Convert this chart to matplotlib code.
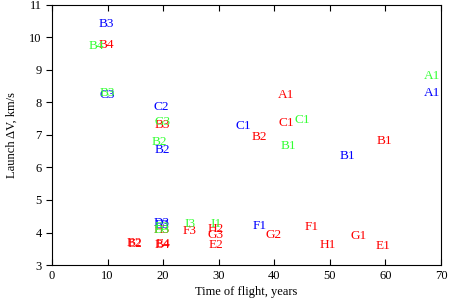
import matplotlib
matplotlib.use("Agg")
import matplotlib.pyplot as plt

plt.rcParams["font.family"] = ["Liberation Serif", "DejaVu Serif"]

# Etiquetas (nome, tempo de voo em anos, delta-V em km/s) por serie
red_names = ["B4", "B3", "A1", "C1", "B2", "B1", "F3", "H2", "G3", "E2",
             "B2", "E2", "B4", "E4", "G2", "F1", "H1", "G1", "E1", "H3"]
red_tof = [9.7, 19.8, 42.1, 42.1, 37.4, 59.8, 24.8, 29.5, 29.5, 29.5,
           14.8, 14.9, 19.8, 19.9, 39.8, 46.8, 49.7, 55.1, 59.6, 19.8]
red_dv = [9.77, 7.31, 8.23, 7.37, 6.94, 6.82, 4.05, 4.12, 3.92, 3.62,
          3.68, 3.66, 3.62, 3.64, 3.92, 4.17, 3.62, 3.89, 3.58, 4.08]

green_names = ["B4", "B3", "G3", "B2", "A1", "C1", "B1", "I3", "I1", "E3", "D3"]
green_tof = [7.9, 9.9, 19.8, 19.3, 68.4, 45.0, 42.5, 24.8, 29.5, 19.8, 19.8]
green_dv = [9.74, 8.29, 7.40, 6.78, 8.82, 7.46, 6.66, 4.26, 4.26, 4.18, 4.08]

blue_names = ["B3", "C3", "C2", "B2", "A1", "C1", "B1", "F1", "D3", "E3"]
blue_tof = [9.7, 9.9, 19.6, 19.8, 68.4, 34.4, 53.1, 37.4, 19.8, 19.8]
blue_dv = [10.42, 8.23, 7.86, 6.54, 8.29, 7.28, 6.35, 4.20, 4.30, 4.24]

fig = plt.figure(figsize=(4.5, 3.08), dpi=100)
ax = fig.add_axes([0.1156, 0.1396, 0.8644, 0.8442])

series = [(red_names, red_tof, red_dv, "#ff0000"),
          (blue_names, blue_tof, blue_dv, "#0000ff"),
          (green_names, green_tof, green_dv, "#33ff33")]
for names, xs, ys, col in series:
    for n, xv, yv in zip(names, xs, ys):
        ax.text(xv, yv, n, color=col, fontsize=9.5, ha="center", va="center")

ax.set_xlim(0, 70)
ax.set_ylim(3, 11)
ax.set_xticks(range(0, 71, 10))
ax.set_yticks(range(3, 12))
ax.tick_params(axis="x", direction="in", top=True, length=4, labelsize=9)
ax.tick_params(axis="y", direction="out", length=4, labelsize=9)
ax.set_xlabel("Time of flight, years", fontsize=9, labelpad=3)
ax.set_ylabel("Launch ΔV, km/s", fontsize=9, labelpad=8)

fig.savefig("out.png", dpi=100)
